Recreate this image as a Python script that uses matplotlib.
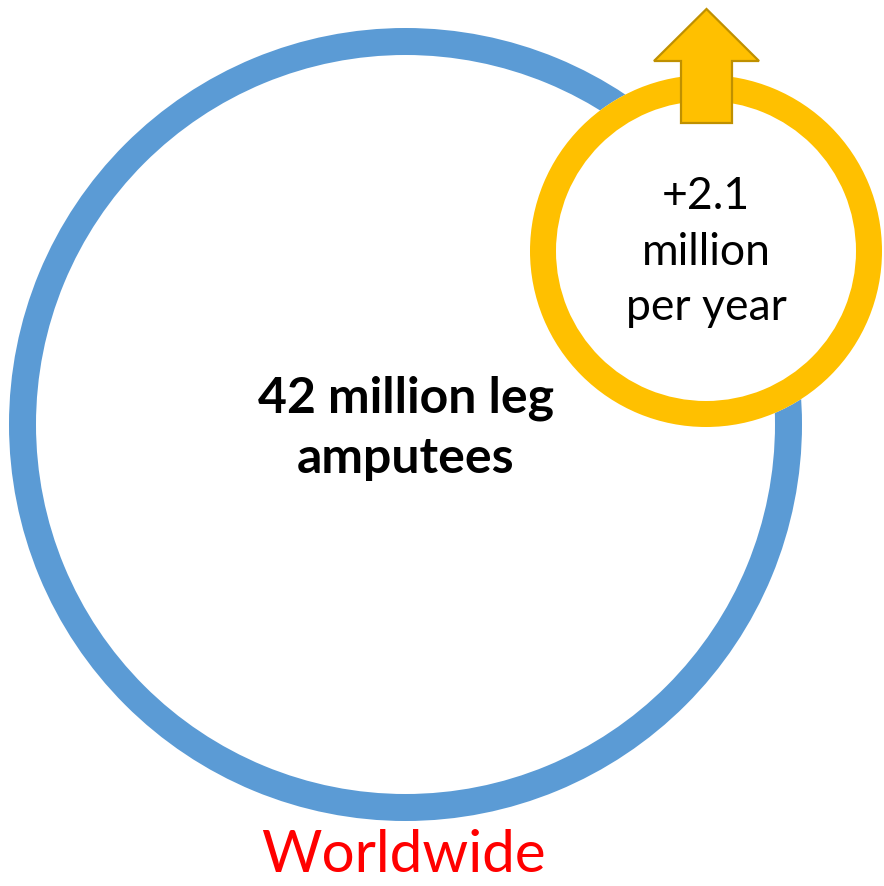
import matplotlib
matplotlib.use("Agg")
import matplotlib.pyplot as plt
from matplotlib.patches import Wedge, Circle, FancyArrow

# labels
MAIN_LABEL = "42 million leg\namputees"
GROWTH_LABEL = "+2.1\nmillion\nper year"
REGION_LABEL = "Worldwide"

# colours
BLUE = "#5B9BD5"
GOLD = "#FFC000"
GOLD_EDGE = "#BF9000"
RED = "#FF0000"

# geometry, in image pixels
W, H = 884, 886
BIG_C, BIG_R, BIG_T = (405.5, 424.5), 396.5, 27
SMALL_C, SMALL_R, SMALL_T = (706, 251), 176, 26

FONT = ["Lato", "DejaVu Sans"]

fig = plt.figure(figsize=(W / 100, H / 100), dpi=100)
ax = fig.add_axes([0, 0, 1, 1])
ax.set_xlim(0, W)
ax.set_ylim(H, 0)
ax.set_aspect("equal")
ax.axis("off")

# big blue ring
ax.add_patch(Wedge(BIG_C, BIG_R, 0, 360, width=BIG_T, color=BLUE, lw=0, zorder=1))

# small ring with white inside, covering the blue one
ax.add_patch(Circle(SMALL_C, SMALL_R, color="white", lw=0, zorder=2))
ax.add_patch(Wedge(SMALL_C, SMALL_R, 0, 360, width=SMALL_T, color=GOLD, lw=0, zorder=3))

# up arrow
ax.add_patch(FancyArrow(706.5, 123, 0, -114, width=51, head_width=105, head_length=52,
                        length_includes_head=True, facecolor=GOLD, edgecolor=GOLD_EDGE,
                        lw=1.6, zorder=4))

ax.text(BIG_C[0], 428, MAIN_LABEL, ha="center", va="center", fontsize=36,
        fontweight="bold", family=FONT, linespacing=1.4, zorder=5)
ax.text(SMALL_C[0], 252, GROWTH_LABEL, ha="center", va="center", fontsize=32,
        family=FONT, linespacing=1.45, zorder=5)
ax.text(403, 856, REGION_LABEL, ha="center", va="center", fontsize=42,
        color=RED, family=FONT, zorder=5)

fig.savefig("out.png", dpi=100)
